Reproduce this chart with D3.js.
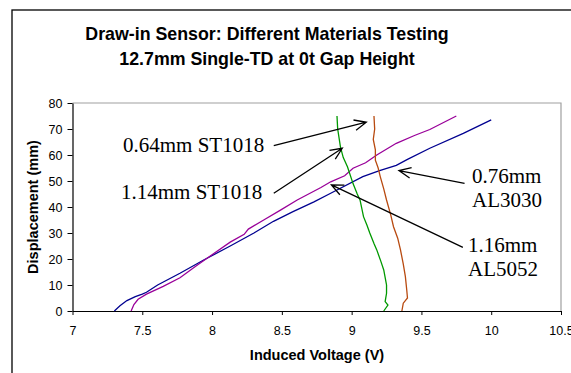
<!DOCTYPE html>
<html>
<head>
<meta charset="utf-8">
<script src="https://cdn.jsdelivr.net/npm/d3@7"></script>
<style>
  body { margin: 0; background: #fff; }
  svg { display: block; }
</style>
</head>
<body>
<div id="chart"></div>
<script>
// title text
let titleLines = ["Draw-in Sensor: Different Materials Testing", "12.7mm Single-TD at 0t Gap Height"];

// axis ticks
let xTicks = [7, 7.5, 8, 8.5, 9, 9.5, 10, 10.5];
let yTicks = [0, 10, 20, 30, 40, 50, 60, 70, 80];

// series: voltage (V) and displacement (mm)
let al3030V = [7.30, 7.34, 7.39, 7.45, 7.50, 7.53, 7.61, 7.77, 7.94, 8.13, 8.30, 8.44, 8.58, 8.73, 8.85, 9.08, 9.20, 9.32, 9.40, 9.56, 9.80, 10.0];
let al3030D = [0, 2, 4, 5.5, 6.5, 7.2, 10, 14.5, 19.6, 25, 30, 34.5, 38.2, 42, 45.3, 51.7, 54, 56, 58.3, 62.6, 68.3, 73.5];

let al5052V = [7.42, 7.44, 7.47, 7.53, 7.65, 7.77, 7.89, 8.01, 8.13, 8.23, 8.26, 8.37, 8.49, 8.61, 8.78, 8.85, 8.95, 9.01, 9.10, 9.18, 9.32, 9.45, 9.56, 9.75];
let al5052D = [0, 2.5, 4.5, 6.5, 9.5, 12.8, 17.5, 22, 26.5, 29.5, 31.5, 35, 38.8, 42.7, 47.5, 49.7, 52, 54.9, 57, 60, 64.5, 67.5, 69.8, 75];

let st1018GreenV = [8.895, 8.90, 8.92, 8.94, 8.97, 9.01, 9.04, 9.06, 9.085, 9.11, 9.13, 9.16, 9.18, 9.21, 9.23, 9.25, 9.25, 9.24, 9.26, 9.23];
let st1018GreenD = [75, 70, 63, 59, 55.5, 49, 45, 42.7, 36.3, 33, 30, 26, 23.5, 19, 15.8, 10, 6.8, 3.6, 2.3, 0];

let st1018BrownV = [9.16, 9.165, 9.155, 9.17, 9.17, 9.19, 9.205, 9.23, 9.25, 9.28, 9.30, 9.33, 9.35, 9.37, 9.385, 9.395, 9.40, 9.37, 9.36];
let st1018BrownD = [75, 70, 66, 62, 58, 55, 51.7, 47, 42.7, 37, 32.4, 28, 23.5, 18, 13.2, 8, 5, 3, 0];

let seriesColors = ["#000090", "#990099", "#009900", "#b84a10"];

// labels with arrows (tail / tip in data units)
let noteLabels = [["0.64mm ST1018"], ["1.14mm ST1018"], ["0.76mm", "AL3030"], ["1.16mm", "AL5052"]];
let noteTails = [[8.442, 63.6], [8.442, 45.3], [9.809, 49.1], [9.797, 24.5]];
let noteTips = [[9.105, 72.6], [8.933, 62.6], [9.339, 54.0], [8.855, 48.5]];

//-------------------------------------------------------
let W = 571, H = 373;
let plot = { left: 72.5, right: 561, top: 103, bottom: 311 };

let svg = d3.select("#chart").append("svg").attr("width", W).attr("height", H);

// outer frame of the chart
svg.append("rect")
    .attr("x", 12).attr("y", 10)
    .attr("width", W).attr("height", H)
    .attr("fill", "#fff")
    .attr("stroke", "#000").attr("stroke-width", 1.3);

let x = d3.scaleLinear().domain([7, 10.5]).range([plot.left, plot.right]);
let y = d3.scaleLinear().domain([0, 80]).range([plot.bottom, plot.top]);

// title
svg.append("g").selectAll("text")
    .data(titleLines)
    .join("text")
    .attr("x", 267)
    .attr("y", (d, i) => 39.5 + i * 25)
    .attr("text-anchor", "middle")
    .style("font-family", "Liberation Sans, Arial, sans-serif")
    .style("font-weight", "bold")
    .style("font-size", "17.8px")
    .text(d => d);

// gray plot border on top and right
svg.append("path")
    .attr("d", `M${plot.left},${plot.top}H${plot.right}V${plot.bottom}`)
    .attr("fill", "none")
    .attr("stroke", "#a0a0a0")
    .attr("stroke-width", 1.2);

// axes
let xAxis = svg.append("g")
    .attr("transform", `translate(0,${plot.bottom})`)
    .call(d3.axisBottom(x).tickValues(xTicks).tickSize(4).tickSizeOuter(0).tickPadding(11).tickFormat(d3.format("")));
let yAxis = svg.append("g")
    .attr("transform", `translate(${plot.left},0)`)
    .call(d3.axisLeft(y).tickValues(yTicks).tickSize(5).tickSizeOuter(0).tickPadding(5));

[xAxis, yAxis].forEach(a => {
    a.select(".domain").attr("stroke", "#000").attr("stroke-width", 1.2);
    a.selectAll(".tick line").attr("stroke", "#000");
    a.selectAll("text")
        .style("font-family", "Liberation Sans, Arial, sans-serif")
        .style("font-size", "12.5px")
        .attr("fill", "#000");
});

// axis titles
svg.append("text")
    .attr("x", 317).attr("y", 360)
    .attr("text-anchor", "middle")
    .style("font-family", "Liberation Sans, Arial, sans-serif")
    .style("font-weight", "bold")
    .style("font-size", "14.5px")
    .text("Induced Voltage (V)");

svg.append("text")
    .attr("transform", `translate(37.5,${(plot.top + plot.bottom) / 2}) rotate(-90)`)
    .attr("text-anchor", "middle")
    .style("font-family", "Liberation Sans, Arial, sans-serif")
    .style("font-weight", "bold")
    .style("font-size", "14.5px")
    .text("Displacement (mm)");

// data lines
let allSeries = [
    [al3030V, al3030D],
    [al5052V, al5052D],
    [st1018GreenV, st1018GreenD],
    [st1018BrownV, st1018BrownD]
];
let line = d3.line().x(d => x(d[0])).y(d => y(d[1]));

allSeries.forEach((s, i) => {
    let pts = s[0].map((v, k) => [v, s[1][k]]);
    svg.append("path")
        .datum(pts)
        .attr("d", line)
        .attr("fill", "none")
        .attr("stroke", seriesColors[i])
        .attr("stroke-width", 1.3);
});

// annotations: text + arrow with open head
let textPos = [[123, 151.5], [121, 199], [472, 183], [468, 251.5]];
let arrows = svg.append("g");
noteLabels.forEach((lines, i) => {
    let t = svg.append("text")
        .style("font-family", "Liberation Serif, Times New Roman, serif")
        .style("font-size", "21px")
        .attr("fill", "#000");
    lines.forEach((l, k) => {
        t.append("tspan")
            .attr("x", textPos[i][0])
            .attr("y", textPos[i][1] + k * 24)
            .text(l);
    });

    let x0 = x(noteTails[i][0]), y0 = y(noteTails[i][1]);
    let x1 = x(noteTips[i][0]), y1 = y(noteTips[i][1]);
    let ang = Math.atan2(y1 - y0, x1 - x0);
    let len = 13, spread = 0.42;
    let a1 = [x1 - len * Math.cos(ang - spread), y1 - len * Math.sin(ang - spread)];
    let a2 = [x1 - len * Math.cos(ang + spread), y1 - len * Math.sin(ang + spread)];
    arrows.append("path")
        .attr("d", `M${x0},${y0}L${x1},${y1}M${a1[0]},${a1[1]}L${x1},${y1}L${a2[0]},${a2[1]}`)
        .attr("fill", "none")
        .attr("stroke", "#000")
        .attr("stroke-width", 1.3);
});
</script>
</body>
</html>
